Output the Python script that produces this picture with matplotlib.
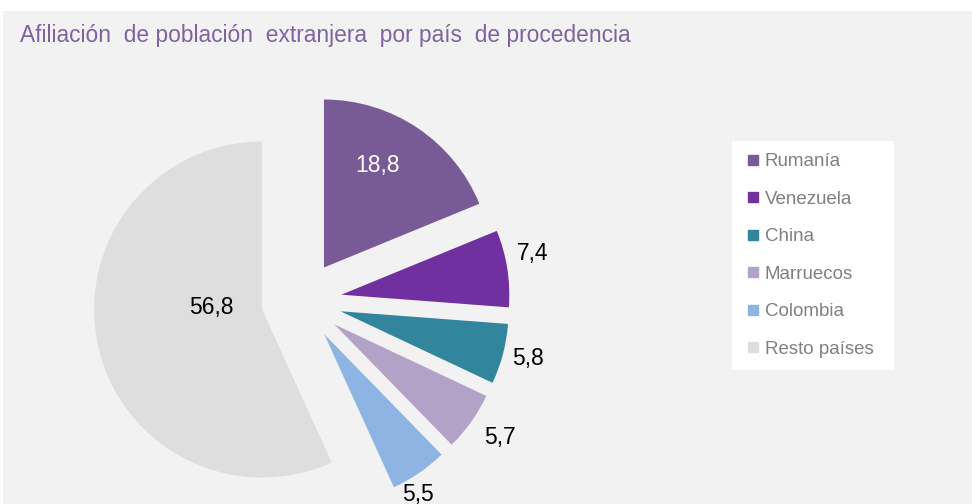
import numpy as np
import matplotlib
matplotlib.use("Agg")
import matplotlib.pyplot as plt
from matplotlib.lines import Line2D
from matplotlib.patches import Rectangle

plt.rcParams['font.family'] = ['Liberation Sans', 'DejaVu Sans']

# ---- data ----
categories = ['Rumanía', 'Venezuela', 'China', 'Marruecos', 'Colombia', 'Resto países']
values = [18.8, 7.4, 5.8, 5.7, 5.5, 56.8]
value_labels = ['18,8', '7,4', '5,8', '5,7', '5,5', '56,8']
colors = ['#775a96', '#7030a0', '#31859c', '#b3a2c7', '#8eb4e3', '#dedede']
label_colors = ['white', 'black', 'black', 'black', 'black', 'black']
# label placement relative to each (exploded) wedge: radial factor, angle offset (deg)
label_dist = [0.692, 1.167, 1.150, 1.189, 1.094, 0.305]
label_dang = [6.5, 3.6, 1.2, 1.5, -3.7, -16.7]
title = 'Afiliación  de población  extranjera  por país  de procedencia'

W, H = 972, 504
fig = plt.figure(figsize=(W / 100, H / 100), dpi=100)
fig.patch.set_facecolor('white')
# chart area background
fig.patches.append(Rectangle((3 / W, 0), 1 - 3 / W, 1 - 11 / H, transform=fig.transFigure,
                             facecolor='#f2f2f2', edgecolor='none', zorder=-5))

ax = fig.add_axes([0, 0, 1, 1], zorder=1)
ax.patch.set_alpha(0)

R = 168
cx, cy = 301.5, H - 301
explode_frac = 0.24
explode = [explode_frac * R] * len(values)   # matplotlib explode is in data units

wedges, _ = ax.pie(values, colors=colors, startangle=90, counterclock=False,
                   radius=R, center=(cx, cy), explode=explode,
                   wedgeprops=dict(linewidth=0), frame=True)
ax.set_xlim(0, W)
ax.set_ylim(0, H)
ax.set_aspect('equal')
ax.axis('off')

fs = 16.5
for w, lab, col, d, da in zip(wedges, value_labels, label_colors, label_dist, label_dang):
    ang = np.deg2rad((w.theta1 + w.theta2) / 2 + da)
    ex, ey = w.center
    ax.annotate(lab, (ex + d * R * np.cos(ang), ey + d * R * np.sin(ang)),
                xytext=(0, -0.358 * fs), textcoords='offset points',
                ha='center', va='baseline', fontsize=fs, color=col)

fig.text(20 / W, 1 - 42 / H, title, ha='left', va='baseline',
         fontsize=16.4, color='#7f63a1')

handles = [Line2D([], [], marker='s', ls='', color=c, markersize=6.5) for c in colors]
top = 1 - 141 / H
leg = fig.legend(handles, categories, loc='upper left',
                 bbox_to_anchor=(732 / W, top - 0.1, 162 / W, 0.1), mode='expand',
                 frameon=True, fancybox=False, framealpha=1, edgecolor='none',
                 facecolor='white', fontsize=13.5, labelcolor='#808080',
                 handlelength=1.0, handletextpad=0.1, labelspacing=1.09,
                 borderpad=0.64, borderaxespad=0)
leg.set_zorder(5)

fig.savefig('out.png', dpi=100, facecolor=fig.get_facecolor())
